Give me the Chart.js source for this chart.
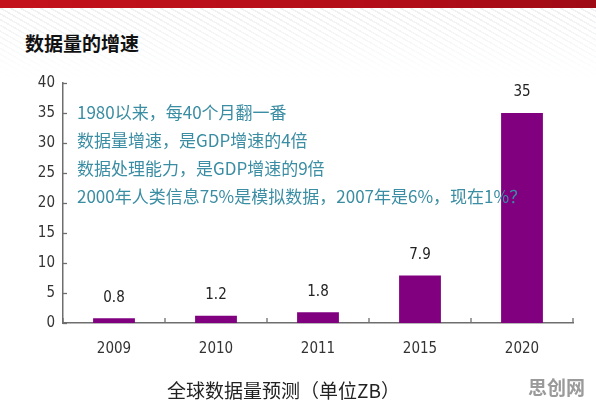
<!DOCTYPE html>
<html><head><meta charset="utf-8">
<script src="https://cdn.jsdelivr.net/npm/chart.js@4/dist/chart.umd.min.js"></script>
<style>
html,body{margin:0;padding:0;background:#fff;}
#wrap{position:relative;width:596px;height:406px;overflow:hidden;background:#fff;}
#redbar{position:absolute;left:0;top:0;width:596px;height:8px;background:linear-gradient(90deg,#c4121c,#b00d18 70%,#9e0a14);}
#stripes{position:absolute;left:0;top:8px;width:596px;height:70px;
 background:repeating-linear-gradient(30deg,rgba(200,205,210,0.35) 0px,rgba(200,205,210,0.35) 1.5px,rgba(255,255,255,0) 1.5px,rgba(255,255,255,0) 5px);
 -webkit-mask-image:linear-gradient(180deg,rgba(0,0,0,0.9),rgba(0,0,0,0));mask-image:linear-gradient(180deg,rgba(0,0,0,0.9),rgba(0,0,0,0));}
#title{position:absolute;left:25px;top:30px;font:bold 19px "Noto Sans CJK SC";color:#111;line-height:26px;white-space:nowrap;}
#note{position:absolute;left:77px;top:98px;font:17px "Noto Sans CJK SC";color:#3a8da3;line-height:28px;white-space:nowrap;z-index:3;}
#cap{position:absolute;left:167px;top:376px;font:19px "Noto Sans CJK SC";color:#222;line-height:28px;white-space:nowrap;}
#wm{position:absolute;left:528px;top:374px;font:bold 19px "Noto Sans CJK SC";color:#9a9a9a;line-height:26px;white-space:nowrap;}
canvas{position:absolute;left:0;top:0;}
</style></head>
<body><div id="wrap">
<div id="redbar"></div><div id="stripes"></div>
<div id="title">数据量的增速</div>
<canvas id="c" width="596" height="406"></canvas>
<div id="note">1980以来，每40个月翻一番<br>数据量增速，是GDP增速的4倍<br>数据处理能力，是GDP增速的9倍<br>2000年人类信息75%是模拟数据，2007年是6%，现在1%？</div>
<div id="cap">全球数据量预测（单位ZB）</div>
<div id="wm">思创网</div>
</div>
<script>
const categories = ['2009','2010','2011','2015','2020'];
const values = [0.8, 1.2, 1.8, 7.9, 35];
const valueLabels = ['0.8','1.2','1.8','7.9','35'];
const yTicks = [0,5,10,15,20,25,30,35,40];

const narrow = '"Liberation Sans Narrow","DejaVu Sans"';

const tickPlugin = {
  id:'inTicks',
  afterDatasetsDraw(chart){
    const ctx = chart.ctx, x = chart.scales.x, y = chart.scales.y;
    ctx.save();
    ctx.strokeStyle = '#6e6e6e'; ctx.lineWidth = 1.3;
    yTicks.forEach(v=>{
      const py = Math.round(y.getPixelForValue(v))+0.5;
      ctx.beginPath(); ctx.moveTo(y.right, py); ctx.lineTo(y.right+4, py); ctx.stroke();
    });
    for(let i=0;i<=categories.length;i++){
      const px = x.getPixelForValue(i-0.5);
      ctx.beginPath(); ctx.moveTo(px, x.top); ctx.lineTo(px, x.top-5); ctx.stroke();
    }
    const meta = chart.getDatasetMeta(0);
    ctx.fillStyle = '#222';
    ctx.font = 'normal condensed 15px ' + narrow;
    ctx.textAlign = 'center'; ctx.textBaseline = 'bottom';
    meta.data.forEach((bar,i)=>{
      ctx.fillText(valueLabels[i], bar.x, bar.y - 13);
    });
    ctx.restore();
  }
};

new Chart(document.getElementById('c'),{
  type:'bar',
  data:{labels:categories,datasets:[{data:values,backgroundColor:'#800080',borderWidth:0,barPercentage:1,categoryPercentage:0.41}]},
  options:{
    responsive:false,animation:false,
    layout:{padding:{left:0,top:83,right:23,bottom:0}},
    plugins:{legend:{display:false},tooltip:{enabled:false}},
    scales:{
      x:{
        grid:{display:false,drawTicks:false},
        border:{display:true,color:'#6e6e6e',width:1.5},
        ticks:{color:'#333',font:{family:narrow,size:15,style:'normal',weight:'condensed'},padding:17},
        afterFit(s){s.height=83;}
      },
      y:{
        min:0,max:40,
        grid:{display:false,drawTicks:false},
        border:{display:true,color:'#6e6e6e',width:1.5},
        ticks:{stepSize:5,color:'#333',font:{family:narrow,size:15,style:'normal',weight:'condensed'},padding:8},
        afterFit(s){s.width=63;}
      }
    }
  },
  plugins:[tickPlugin]
});
</script>
</body></html>
